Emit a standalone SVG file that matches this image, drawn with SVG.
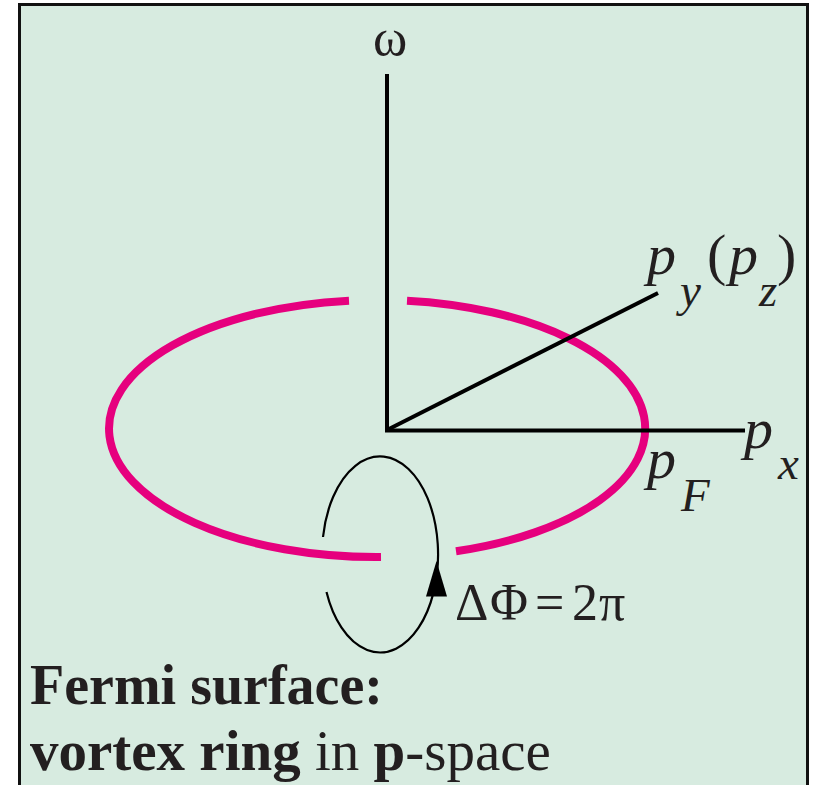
<svg xmlns="http://www.w3.org/2000/svg" width="813" height="785" viewBox="0 0 813 785">
  <style>
    .t { font-family: "Liberation Serif", "Times New Roman", serif; fill: #231f20; }
    .it { font-style: italic; }
    .b { font-weight: bold; }
    .axis { stroke: #000; stroke-width: 4; fill: none; }
    .ring { stroke: #e6007e; stroke-width: 8; fill: none; stroke-linecap: butt; }
    .loop { stroke: #000; stroke-width: 2.2; fill: none; }
  </style>
  <rect x="19.5" y="4.5" width="788" height="800" fill="#d7ebe0" stroke="#111" stroke-width="3"/>

  <g id="fermi-ring">
    <path class="ring" d="M 407 300.7 A 267.5 128.5 0 0 1 456 551.3"/>
    <path class="ring" d="M 381 557 A 267.5 128.5 0 0 1 349 300.7"/>
  </g>

  <g id="connectors">
    <line class="axis" x1="387" y1="430" x2="387" y2="74"/>
    <line class="axis" x1="385" y1="430.5" x2="745" y2="430.5"/>
    <line class="axis" x1="387" y1="430" x2="658" y2="293"/>
  </g>

  <g id="phase-loop">
    <path class="loop" d="M 323 537 A 58 98 0 1 1 326.5 592"/>
    <polygon points="436.5,561 426,596.5 447,596.5" fill="#000"/>
  </g>

  <g id="label-omega">
    <text class="t" x="390" y="55" font-size="52" text-anchor="middle">ω</text>
  </g>
  <g id="label-py">
    <text class="t it" x="647" y="274" font-size="58">p</text>
    <text class="t it" x="680" y="306" font-size="47">y</text>
    <text class="t" x="707" y="274" font-size="58">(</text>
    <text class="t it" x="729" y="274" font-size="58">p</text>
    <text class="t it" x="759" y="306" font-size="47">z</text>
    <text class="t" x="777" y="274" font-size="58">)</text>
  </g>
  <g id="label-px">
    <text class="t it" x="744" y="448" font-size="58">p</text>
    <text class="t it" x="778" y="479" font-size="47">x</text>
  </g>
  <g id="label-pF">
    <text class="t it" x="647" y="478" font-size="58">p</text>
    <text class="t it" x="681" y="511" font-size="47">F</text>
  </g>
  <g id="label-phase">
    <text class="t" y="620" font-size="52"><tspan x="455">Δ</tspan><tspan x="490">Φ</tspan><tspan x="535">=</tspan><tspan x="572">2</tspan><tspan x="599">π</tspan></text>
  </g>
  <g id="caption">
    <text class="t b" x="30" y="704" font-size="56">Fermi surface:</text>
    <text class="t" x="30" y="770" font-size="57"><tspan class="b">vortex ring</tspan> in <tspan class="b">p</tspan>-space</text>
  </g>
</svg>
